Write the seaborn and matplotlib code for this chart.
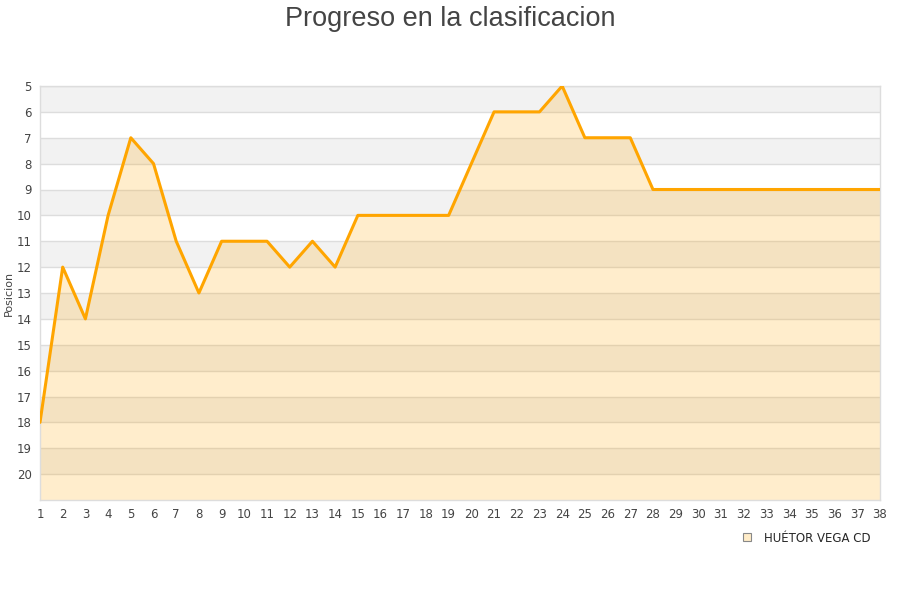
import matplotlib
matplotlib.use("Agg")
import matplotlib.pyplot as plt
from matplotlib.lines import Line2D
import pandas as pd
import seaborn as sns

# Jornadas y posicion del equipo
jornadas = list(range(1, 39))
posiciones = [18, 12, 14, 10, 7, 8, 11, 13, 11, 11, 11, 12, 11, 12, 10, 10, 10, 10, 10,
              8, 6, 6, 6, 5, 7, 7, 7, 9, 9, 9, 9, 9, 9, 9, 9, 9, 9, 9]
equipo = "HUÉTOR VEGA CD"
y_ticks = list(range(5, 21))

df = pd.DataFrame({"Jornada": jornadas, "Posicion": posiciones})

sns.set_theme(style="white")
plt.rcParams["font.family"] = ["DejaVu Sans"]

fig = plt.figure(figsize=(9, 6), dpi=100)
ax = fig.add_axes([40 / 900, 100 / 600, 840 / 900, 414 / 600])

# Alternating background bands
for v in range(5, 21):
    color = "#f2f2f2" if (v - 5) % 2 == 0 else "white"
    ax.axhspan(v, v + 1, color=color, zorder=0, lw=0)

for v in y_ticks:
    ax.axhline(v, color="#dddddd", lw=1, zorder=1)

ax.fill_between(df["Jornada"], df["Posicion"], 21, color="#ffa500", alpha=0.2, lw=0, zorder=2)
sns.lineplot(data=df, x="Jornada", y="Posicion", ax=ax, color="#ffa500", lw=2.2, zorder=3)

ax.set_xlim(1, 38)
ax.set_ylim(21, 5)
ax.set_xticks(jornadas)
ax.set_yticks(y_ticks)
ax.tick_params(axis="both", labelsize=8.5, colors="#444444", length=0, pad=6)
ax.set_xlabel("")
ax.set_ylabel("Posicion", fontsize=8, color="#444444", labelpad=2)

for side, spine in ax.spines.items():
    spine.set_color("#dddddd")
    spine.set_linewidth(1)

fig.suptitle("Progreso en la clasificacion", y=0.99, fontsize=19.5, color="#444444",
             family="Liberation Sans")

handle = Line2D([], [], marker="s", linestyle="none", markersize=6,
                markerfacecolor="#ffecc8", markeredgecolor="#888888", markeredgewidth=0.8)
fig.legend([handle], [equipo], loc="center", bbox_to_anchor=(803 / 900, 1 - 538 / 600),
           frameon=False, fontsize=8.5, handletextpad=0.5)

fig.savefig("out.png", dpi=100)
